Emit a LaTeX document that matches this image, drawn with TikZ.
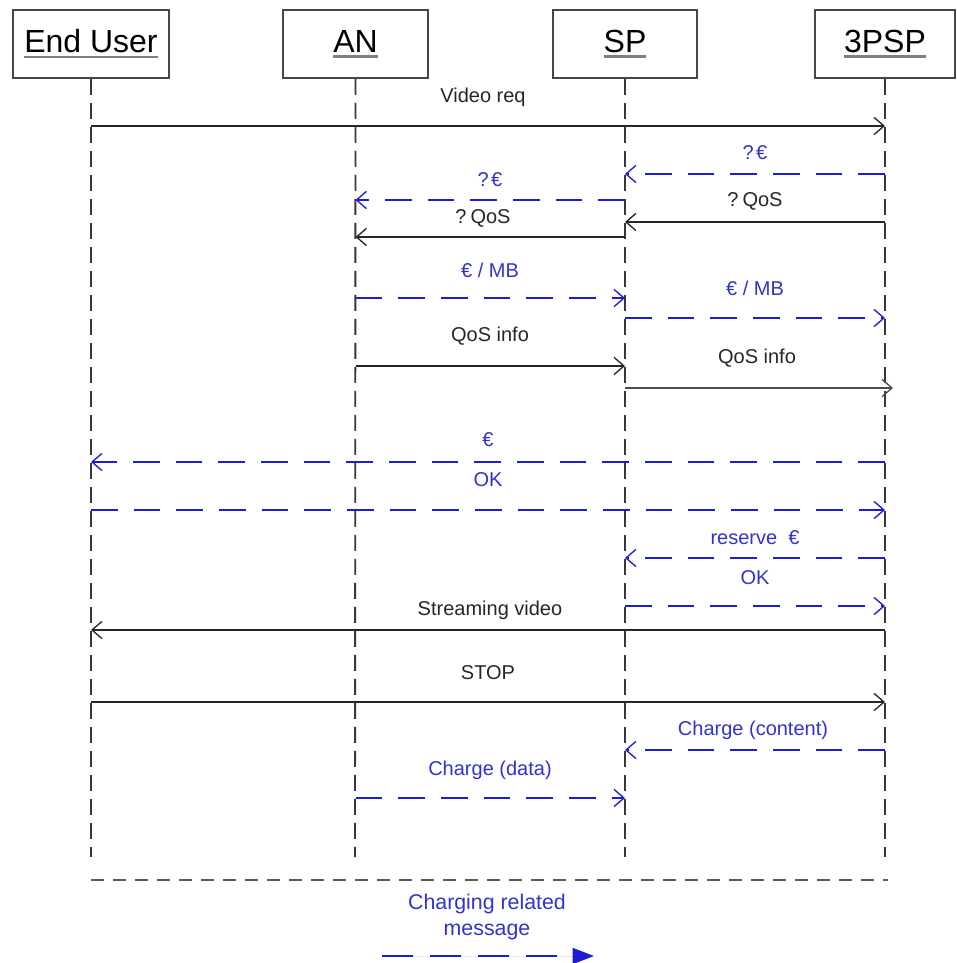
\documentclass[tikz,border=0pt]{standalone}
\usepackage{fontspec}
\setmainfont{Liberation Sans}
\usetikzlibrary{arrows.meta}
\definecolor{chgblue}{RGB}{28,28,210}
\definecolor{chgtext}{RGB}{50,50,205}
\definecolor{lifegray}{RGB}{55,55,55}
\definecolor{boxgray}{RGB}{70,70,70}
\newcommand\actorul[1]{\setbox0\hbox{#1}\rlap{\textcolor{black!50}{\rule[-4.2pt]{\wd0}{1.9pt}}}\box0}
\begin{document}
\begin{tikzpicture}[x=0.75pt,y=-0.75pt,
 actor/.style={draw=boxgray, line width=1.4pt, minimum height=51pt, inner sep=0pt, font=\fontsize{24}{28}\selectfont},
 life/.style={draw=lifegray, line width=1.4pt, dash pattern=on 12pt off 6pt},
 msg/.style={draw=black!85, line width=1pt, -{Straight Barb[length=7.5pt,width=13pt,line width=1pt]}},
 chg/.style={draw=chgblue, line width=1.2pt, dash pattern=on 20pt off 12pt, -{Straight Barb[length=7.5pt,width=13pt,line width=1pt]}},
 mlabel/.style={font=\fontsize{15}{18}\selectfont, text=black!85, inner sep=0pt},
 clabel/.style={mlabel, text=chgtext},
]
\useasboundingbox (0,0) rectangle (956,963);

% actors
\node[actor, minimum width=117pt] (eu) at (91,44) {\actorul{End User}};
\node[actor, minimum width=108.5pt] (an) at (355.5,44) {\actorul{AN}};
\node[actor, minimum width=108pt] (sp) at (625,44) {\actorul{SP}};
\node[actor, minimum width=105pt] (psp) at (885,44) {\actorul{3PSP}};

% lifelines
\coordinate (eub) at (91,857);
\coordinate (anb) at (355,857);
\coordinate (spb) at (625,857);
\coordinate (pspb) at (885,857);
\draw[life] (eu.south) -- (eub);
\draw[life] (an.south) -- (anb);
\draw[life] (sp.south) -- (spb);
\draw[life] (psp.south) -- (pspb);

% messages
\draw[msg] (eu |- 0,126) -- (psp |- 0,126);
\node[mlabel] (l1) at (483,97) {Video req};

\draw[chg] (psp |- 0,174) -- (sp |- 0,174);
\node[clabel] (l2) at (755,153) {?\kern0.12em€};

\draw[chg] (sp |- 0,200) -- (an |- 0,200);
\node[clabel] (l3) at (490,180) {?\kern0.12em€};

\draw[msg] (psp |- 0,222) -- (sp |- 0,222);
\node[mlabel] (l4) at (755,201) {?\kern0.2em QoS};

\draw[msg] (sp |- 0,237) -- (an |- 0,237);
\node[mlabel] (l5) at (483,218) {?\kern0.2em QoS};

\draw[chg] (an |- 0,298) -- (sp |- 0,298);
\node[clabel] (l6) at (490,270) {€ / MB};

\draw[chg] (sp |- 0,318) -- (psp |- 0,318);
\node[clabel] (l7) at (755,288) {€ / MB};

\draw[msg] (an |- 0,366) -- (sp |- 0,366);
\node[mlabel] (l8) at (490,336) {QoS info};

\coordinate (qend) at (893,388);
\draw[msg, draw=black!70] (sp |- 0,388) -- (qend);
\node[mlabel] (l9) at (757,358) {QoS info};

\draw[chg] (psp |- 0,462) -- (eu |- 0,462);
\node[clabel] (l10) at (488,440) {€};

\draw[chg] (eu |- 0,510) -- (psp |- 0,510);
\node[clabel] (l11) at (488,480) {OK};

\draw[chg] (psp |- 0,558) -- (sp |- 0,558);
\node[clabel] (l12) at (755,538) {reserve\ \ €};

\draw[chg] (sp |- 0,606) -- (psp |- 0,606);
\node[clabel] (l13) at (755,578) {OK};

\draw[msg] (psp |- 0,630) -- (eu |- 0,630);
\node[mlabel] (l14) at (490,610) {Streaming video};

\draw[msg] (eu |- 0,702) -- (psp |- 0,702);
\node[mlabel] (l15) at (488,673) {STOP};

\draw[chg] (psp |- 0,750) -- (sp |- 0,750);
\node[clabel] (l16) at (753,730) {Charge (content)};

\draw[chg] (an |- 0,798) -- (sp |- 0,798);
\node[clabel] (l17) at (490,770) {Charge (data)};

% bottom separator
\coordinate (bl) at (91,880);
\coordinate (br) at (888,880);
\draw[draw=black!65, line width=1.4pt, dash pattern=on 10pt off 6.5pt] (bl) -- (br);

% legend
\node[clabel, align=center, font=\fontsize{16}{19}\selectfont] (leg) at (487,917) {Charging related\\message};
\coordinate (la) at (382,956);
\coordinate (lb) at (594,956);
\draw[draw=chgblue, line width=1.3pt, dash pattern=on 23pt off 13pt, -{Triangle[length=16pt,width=12pt]}, fill=chgblue] (la) -- (lb);
\end{tikzpicture}
\end{document}
